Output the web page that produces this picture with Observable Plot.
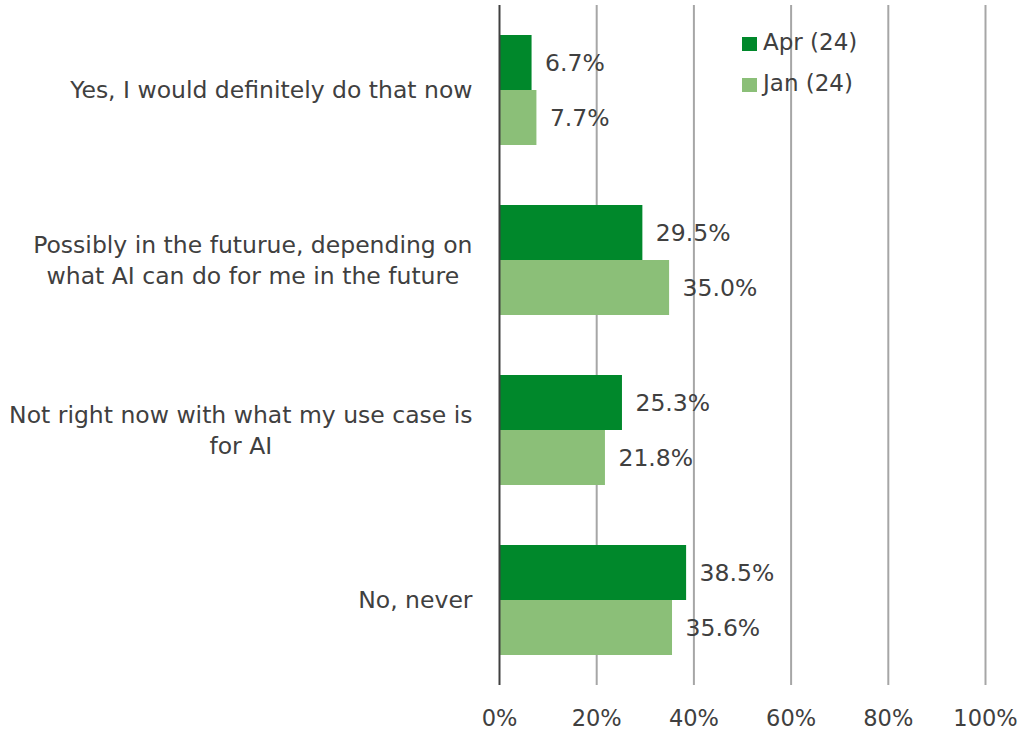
<!DOCTYPE html>
<html><head><meta charset="utf-8">
<script src="https://cdn.jsdelivr.net/npm/d3@7"></script>
<script src="https://cdn.jsdelivr.net/npm/@observablehq/plot@0.6"></script>
<style>
body{margin:0;background:#fff;}
#wrap{position:relative;width:1021px;height:733px;font-family:"DejaVu Sans",sans-serif;color:#404040}
#legend{position:absolute;left:742px;top:22px;font-size:23px;line-height:41px}
#legend .sw{display:inline-block;width:15px;height:14px;margin-right:6px;vertical-align:-1px}
</style>
</head><body><div id="wrap"></div>
<script>
const categories = ["Yes, I would definitely do that now", "Possibly in the futurue, depending on what AI can do for me in the future", "Not right now with what my use case is for AI", "No, never"];
const labelLines = [["Yes, I would definitely do that now"], ["Possibly in the futurue, depending on", "what AI can do for me in the future"], ["Not right now with what my use case is", "for AI"], ["No, never"]];
const series = ["Apr (24)", "Jan (24)"];
const aprValues = [0.067, 0.295, 0.253, 0.385];
const janValues = [0.077, 0.350, 0.218, 0.356];
const xTicks = [0, 0.2, 0.4, 0.6, 0.8, 1.0];
const colors = ["#00882B", "#8BBF78"];

const FONT = '"DejaVu Sans", sans-serif';
const FS = 23.5;
const TFS = 22.5;
const data = [];
categories.forEach((c, i) => {
  data.push({category: c, series: series[0], value: aprValues[i]});
  data.push({category: c, series: series[1], value: janValues[i]});
});
const ctx = document.createElement("canvas").getContext("2d");
ctx.font = `${FS}px ${FONT}`;
const labelMarks = categories.map((c, i) => {
  const w = d3.max(labelLines[i], l => ctx.measureText(l).width);
  return Plot.text([c], {fy: d => d, text: () => labelLines[i].join("\n"), frameAnchor: "left",
    textAnchor: "middle", dx: -(27 + w / 2), dy: -2, fill: "#404040", fontSize: FS, lineHeight: 1.32});
});
const chart = Plot.plot({
  width: 1021, height: 733, marginLeft: 499, marginRight: 36, marginTop: 5, marginBottom: 48,
  style: {fontFamily: FONT, fontSize: FS + "px", color: "#404040", background: "white"},
  x: {domain: [0, 1], axis: null, label: null},
  fy: {domain: categories, padding: 0, axis: null, label: null},
  y: {domain: series, paddingInner: 0, paddingOuter: 0.53, axis: null, label: null},
  color: {domain: series, range: colors},
  marks: [
    Plot.ruleX(xTicks.slice(1), {stroke: "#a6a6a6", strokeWidth: 2}),
    Plot.barX(data, {fy: "category", y: "series", x: "value", fill: "series"}),
    Plot.ruleX([0], {stroke: "#404040", strokeWidth: 2}),
    Plot.text(data, {fy: "category", y: "series", x: "value", text: d => d3.format(".1%")(d.value),
      textAnchor: "start", dx: 13, fill: "#404040", fontSize: FS}),
    ...labelMarks,
    Plot.axisX(xTicks, {tickSize: 0, tickPadding: 25, tickFormat: d3.format(".0%"), fontSize: TFS, fill: "#404040", label: null})
  ]
});
const wrap = document.getElementById("wrap");
wrap.appendChild(chart);
const legend = document.createElement("div");
legend.id = "legend";
legend.innerHTML = series.map((s, i) => `<div><span class="sw" style="background:${colors[i]}"></span>${s}</div>`).join("");
wrap.appendChild(legend);
</script>
</body></html>
